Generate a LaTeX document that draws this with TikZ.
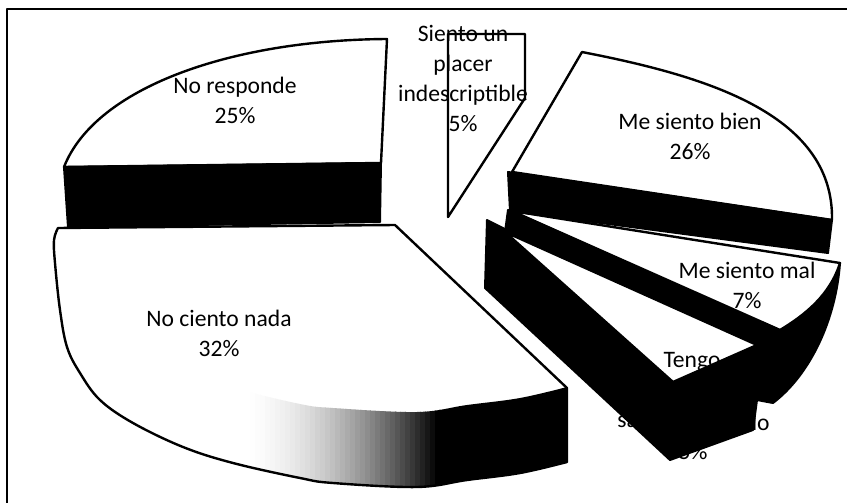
\documentclass[tikz,border=0pt]{standalone}
\usepackage{fontspec}
\setmainfont{Carlito}
\begin{document}
\begin{tikzpicture}[x=0.5pt,y=-0.5pt, line join=round,
  blk/.style={fill=black, draw=black, line width=1pt},
  face/.style={fill=white, draw=black, line width=1.2pt},
  lbl/.style={font=\fontsize{11.8}{15}\selectfont, align=center, inner sep=0pt}]
\useasboundingbox (0,0) rectangle (847,503);
\fill[white] (0,0) rectangle (847,503);

% --- Me siento mal (7%): rim, radial face, top face
\path[blk] (840,263) .. controls (836,320) and (810,375) .. (773,403) -- (757,400) -- (757,345) -- (780,330) .. controls (805,315) and (830,295) .. (840,263) -- cycle;
\path[blk] (508,210) -- (780,330) -- (757,345) -- (505,232) -- cycle;
\path[face] (512,211) -- (840,263) .. controls (830,295) and (805,315) .. (780,330) -- cycle;

% --- Me siento bien (26%)
\path[face] (512,172) -- (582,52) .. controls (700,75) and (834,112) .. (832,220) -- cycle;
\path[blk] (508,172) -- (832,220) -- (828,253) -- (510,211) -- cycle;

% --- Tengo ... (5%)
\path[blk] (487,220) -- (507,230) -- (673,382) -- (757,345) -- (757,400) -- (753,430) -- (670,460) -- (485,288) -- cycle;
\path[face] (505,232) -- (757,345) -- (673,382) -- cycle;

% --- No ciento nada (32%)
\fill[white] (395,225) -- (58,228) -- plot[smooth, tension=0.6] coordinates {(58,228) (54,240) (55,263) (60,310) (67,347) (80,373) (100,400) (133,423) (183,447) (233,463) (300,478) (333,483) (417,487) (467,480) (520,473) (567,462)} -- (567,388) -- cycle;
\begin{scope}
\clip plot[smooth, tension=0.6] coordinates {(567,462) (520,473) (467,480) (417,487) (333,483) (300,478) (233,463) (183,447) (133,423)} -- plot[smooth, tension=0.6] coordinates {(133,350) (183,372) (233,388) (300,404) (333,408) (417,412) (467,405) (520,398) (567,387)} -- cycle;
\foreach \i in {0,...,39} {
  \pgfmathsetmacro{\gx}{240+5*\i}
  \pgfmathsetmacro{\gv}{100*(\i/39)^1.8}
  \fill[black!\gv] (\gx,340) rectangle ({\gx+5.6},495);
}
\fill[black] (439,340) rectangle (575,495);
\end{scope}
\draw[line width=1.2pt] (395,225) -- (58,228) -- plot[smooth, tension=0.6] coordinates {(58,228) (54,240) (55,263) (60,310) (67,347) (80,373) (100,400) (133,423) (183,447) (233,463) (300,478) (333,483) (417,487) (467,480) (520,473) (567,462)} -- (567,388) -- cycle;

% --- No responde (25%)
\path[face] (64,167) .. controls (95,88) and (230,40) .. (387,39) -- (381,163) -- cycle;
\path[blk] (64,167) -- (381,163) -- (380,222) -- (68,227) -- cycle;

% --- Siento un placer indescriptible (5%)
\path[face] (448,34) -- (525,34) -- (525,98) -- (448,217) -- cycle;

% --- labels
\node[lbl] (lsiento) at (463,78) {Siento un\\placer\\indescriptible\\5\%};
\node[lbl] (lnoresp) at (235,100) {No responde\\25\%};
\node[lbl] (lnada) at (219,333) {No ciento nada\\32\%};
\node[lbl] (lbien) at (690,136) {Me siento bien\\26\%};
\node[lbl] (lmal) at (747,285) {Me siento mal\\7\%};
\node[lbl] (ltengo) at (692,362) {Tengo};
\node[lbl, anchor=west] (lsa) at (617,422) {sa};
\node[lbl, anchor=east] (ldo) at (770,422) {do};
\node[lbl] (lpct) at (693,452) {5\%};

% --- frame
\draw[line width=1pt] (7,503) -- (7,9) -- (847,9);
\end{tikzpicture}
\end{document}
